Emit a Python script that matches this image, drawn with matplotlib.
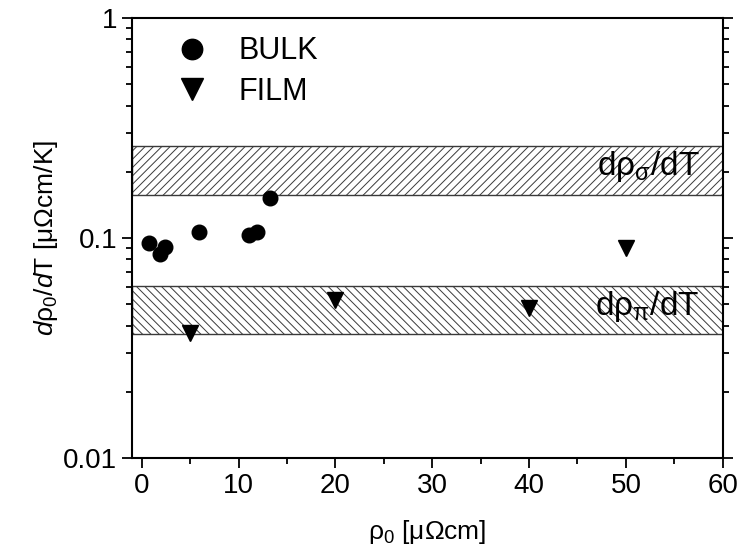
import numpy as np
import matplotlib.pyplot as plt
from matplotlib.ticker import LogLocator, NullFormatter, FixedLocator

plt.rcParams['font.family'] = ['Liberation Sans', 'DejaVu Sans']
plt.rcParams['mathtext.fontset'] = 'custom'
plt.rcParams['mathtext.rm'] = 'Liberation Sans'
plt.rcParams['mathtext.it'] = 'Liberation Sans:italic'
plt.rcParams['hatch.linewidth'] = 0.7

# ---- data ----
bulk_rho0 = [0.8, 1.9, 2.4, 5.9, 11.1, 11.9, 13.3]
bulk_slope = [0.095, 0.085, 0.091, 0.107, 0.103, 0.107, 0.152]
film_rho0 = [5, 20, 40, 50]
film_slope = [0.037, 0.052, 0.048, 0.090]
sigma_band = [0.157, 0.262]
pi_band = [0.0365, 0.0605]

fig = plt.figure(figsize=(7.39, 5.56), dpi=100)
ax = fig.add_axes([0.1786, 0.1763, 0.7994, 0.7913])

ax.axhspan(sigma_band[0], sigma_band[1], facecolor='white', edgecolor='#3a3a3a',
           hatch='////', linewidth=1.0, zorder=1)
ax.axhspan(pi_band[0], pi_band[1], facecolor='white', edgecolor='#3a3a3a',
           hatch='\\\\\\\\', linewidth=1.0, zorder=1)

ax.text(57.6, np.sqrt(sigma_band[0] * sigma_band[1]) * 1.04,
        r'dρ$_{\mathrm{\sigma}}$/dT', ha='right', va='center', fontsize=24,
        zorder=2)
ax.text(57.6, np.sqrt(pi_band[0] * pi_band[1]) * 1.04,
        r'dρ$_{\mathrm{\pi}}$/dT', ha='right', va='center', fontsize=24,
        zorder=2)

ax.plot(bulk_rho0, bulk_slope, 'o', color='black', markersize=10.5, zorder=3,
        label='BULK')
ax.plot(film_rho0, film_slope, 'v', color='black', markersize=11, zorder=3,
        label='FILM')

ax.set_yscale('log')
ax.set_xlim(-1, 60)
ax.set_ylim(0.01, 1)
ax.set_yticks([0.01, 0.1, 1])
ax.set_yticklabels(['0.01', '0.1', '1'])
ax.yaxis.set_minor_locator(LogLocator(base=10, subs=np.arange(2, 10)))
ax.yaxis.set_minor_formatter(NullFormatter())
ax.set_xticks(np.arange(0, 61, 10))
ax.xaxis.set_minor_locator(FixedLocator(np.arange(5, 60, 10)))

ax.tick_params(axis='both', which='major', direction='out', length=7, width=1.3,
               labelsize=20)
ax.tick_params(axis='both', which='minor', direction='out', length=4, width=1.3)
ax.tick_params(axis='y', which='both', right=True)
for sp in ax.spines.values():
    sp.set_linewidth(1.5)

ax.set_xlabel(r'ρ$_{\mathrm{0}}$ [μΩcm]', fontsize=19, labelpad=14)
ax.set_ylabel(r'$d$ρ$_{\mathrm{0}}$/$d$T [μΩcm/K]', fontsize=19, labelpad=2)

ax.legend(loc='upper left', bbox_to_anchor=(0.04, 0.986), borderaxespad=0,
          frameon=False, fontsize=22, handletextpad=0.7, labelspacing=0.35,
          markerscale=1.4, handlelength=1.6)

fig.savefig('out.png', dpi=100)
